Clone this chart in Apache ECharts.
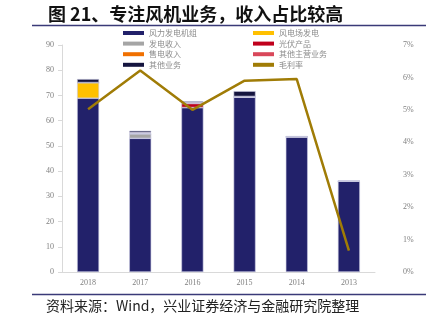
<!DOCTYPE html>
<html>
<head>
<meta charset="utf-8">
<script src="https://cdn.jsdelivr.net/npm/echarts@6/dist/echarts.min.js"></script>
<style>
  html, body { margin: 0; padding: 0; background: #fff; }
  #chart { width: 430px; height: 325px; }
</style>
</head>
<body>
<div id="chart"></div>
<script>
// Revenue breakdown by business (亿元) and gross margin, 2018 → 2013
const years = ['2018', '2017', '2016', '2015', '2014', '2013'];
const turbines   = [68.9, 53.0, 65.2, 69.3, 53.6, 36.0]; // 风力发电机组
const windFarm   = [6.2, 0, 0, 0, 0, 0];                 // 风电场发电
const powerGen   = [0, 1.8, 0, 0, 0, 0];                 // 发电收入
const pvProducts = [0, 0, 1.6, 0.3, 0, 0];               // 光伏产品
const powerSale  = [0, 0.2, 0, 0, 0, 0];                 // 售电收入
const otherMain  = [0, 0.3, 0.4, 0, 0, 0];               // 其他主营业务
const otherBiz   = [1.4, 0.7, 0.5, 2.1, 0.3, 0.2];       // 其他业务
const grossMargin = [0.0502, 0.0621, 0.0500, 0.0590, 0.0595, 0.0066]; // 毛利率
const leftTicks = [0, 10, 20, 30, 40, 50, 60, 70, 80, 90];

const chart = echarts.init(document.getElementById('chart'), null, { renderer: 'canvas' });

const tickFont = { fontFamily: 'Liberation Serif', fontSize: 8, color: '#7f7f7f' };
const legendFont = { fontFamily: 'Noto Sans CJK SC', fontSize: 8, color: '#8c8c8c' };
const lineColor = '#a07c06';

function barSeries(name, data, color) {
  return {
    name, type: 'bar', stack: 'rev', data, barWidth: 22,
    itemStyle: { color, borderColor: '#c9c9e0', borderWidth: 0.6 },
    emphasis: { disabled: true }
  };
}

const legendBase = {
  top: 24, orient: 'vertical', itemGap: 2.6, itemWidth: 21, itemHeight: 4,
  textStyle: legendFont, icon: 'rect',
  itemStyle: { borderWidth: 0 }
};

chart.setOption({
  animation: false,
  title: [
    {
      text: '图 21、专注风机业务，收入占比较高', left: 43, top: 0,
      textStyle: { fontFamily: 'Noto Sans CJK SC', fontWeight: 'bold', fontSize: 18, color: '#111' }
    },
    {
      text: '资料来源：Wind，兴业证券经济与金融研究院整理', left: 41, top: 294,
      textStyle: { fontFamily: 'Noto Sans CJK SC', fontWeight: 'normal', fontSize: 14, color: '#222' }
    }
  ],
  graphic: [
    { type: 'line', shape: { x1: 32, y1: 25.5, x2: 426, y2: 25.5 }, style: { stroke: '#3a3a78', lineWidth: 1.5 } },
    { type: 'line', shape: { x1: 32, y1: 294.5, x2: 426, y2: 294.5 }, style: { stroke: '#3a3a78', lineWidth: 1.5 } }
  ],
  legend: [
    Object.assign({ left: 118, data: ['风力发电机组', '发电收入', '售电收入', '其他业务'] }, legendBase),
    Object.assign({
      left: 248,
      data: [
        { name: '风电场发电' },
        { name: '光伏产品' },
        { name: '其他主营业务' },
        { name: '毛利率', itemStyle: { color: lineColor, borderWidth: 0 } }
      ]
    }, legendBase)
  ],
  grid: { left: 62, right: 55, top: 45, bottom: 53 },
  xAxis: {
    type: 'category', data: years,
    axisLine: { lineStyle: { color: '#d9d9d9' } },
    axisTick: { show: false },
    axisLabel: Object.assign({ margin: 7 }, tickFont)
  },
  yAxis: [
    {
      type: 'value', min: 0, max: 90, interval: 10,
      axisLine: { show: true, lineStyle: { color: '#d9d9d9' } },
      axisTick: { show: true, inside: false, length: 4, lineStyle: { color: '#d9d9d9' } },
      splitLine: { show: false },
      axisLabel: Object.assign({ margin: 8, formatter: v => leftTicks.includes(v) ? String(v) : '' }, tickFont)
    },
    {
      type: 'value', min: 0, max: 0.07, interval: 0.01,
      axisLine: { show: false }, axisTick: { show: false }, splitLine: { show: false },
      axisLabel: Object.assign({ margin: 28, formatter: v => Math.round(v * 100) + '%' }, tickFont)
    }
  ],
  series: [
    barSeries('风力发电机组', turbines, '#22216a'),
    barSeries('风电场发电', windFarm, '#ffc000'),
    barSeries('发电收入', powerGen, '#a5a5a5'),
    barSeries('光伏产品', pvProducts, '#c0001c'),
    barSeries('售电收入', powerSale, '#f07000'),
    barSeries('其他主营业务', otherMain, '#d9485a'),
    barSeries('其他业务', otherBiz, '#15153f'),
    {
      name: '毛利率', type: 'line', yAxisIndex: 1, data: grossMargin,
      symbol: 'none', lineStyle: { color: lineColor, width: 2.5 }, itemStyle: { color: lineColor },
      emphasis: { disabled: true }
    }
  ]
});
</script>
</body>
</html>
